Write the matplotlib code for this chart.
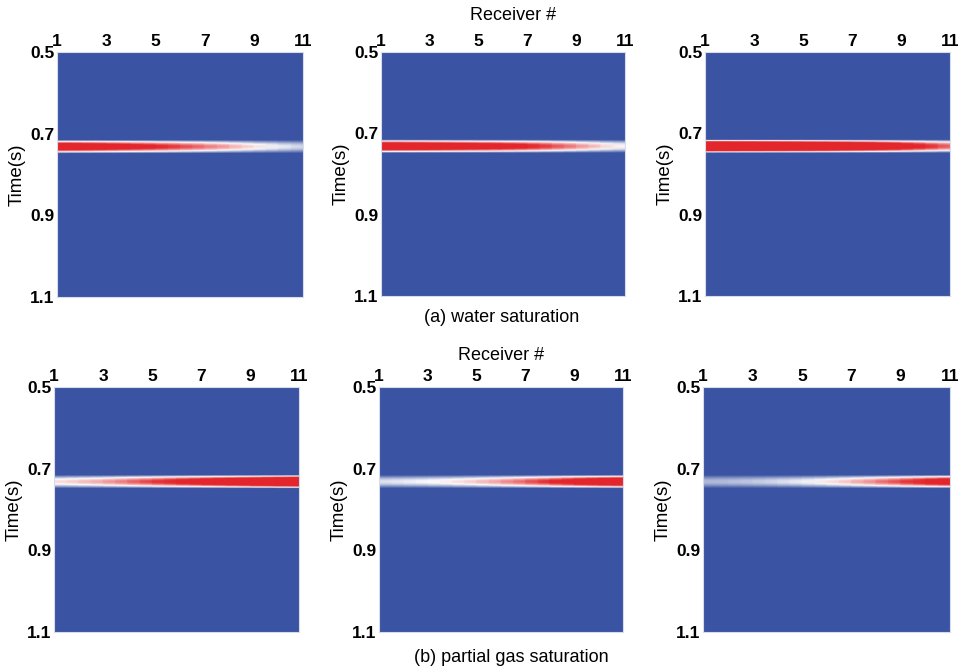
import numpy as np
import matplotlib
matplotlib.use("Agg")
import matplotlib.pyplot as plt
from matplotlib.colors import LinearSegmentedColormap

plt.rcParams['font.family'] = ['Liberation Sans', 'DejaVu Sans']

# ---- data ----
receivers = np.arange(1, 12)
xtick_labels = [1, 3, 5, 7, 9, 11]
ytick_labels = [0.5, 0.7, 0.9, 1.1]
event_time = 0.733          # s, reflection arrival
wavelet_freq = 13.5         # Hz, Ricker peak frequency

amp_water = [
    [1.00, 0.95, 0.88, 0.80, 0.72, 0.63, 0.54, 0.45, 0.35, 0.28, 0.22],
    [1.05, 1.02, 0.98, 0.93, 0.88, 0.82, 0.74, 0.62, 0.50, 0.38, 0.30],
    [1.50, 1.47, 1.43, 1.38, 1.32, 1.25, 1.15, 1.05, 0.90, 0.72, 0.55],
]
amp_gas = [
    [0.35, 0.40, 0.46, 0.55, 0.65, 0.76, 0.88, 1.00, 1.12, 1.25, 1.40],
    [0.25, 0.27, 0.30, 0.34, 0.40, 0.48, 0.58, 0.70, 0.85, 0.98, 1.10],
    [0.18, 0.19, 0.21, 0.24, 0.28, 0.34, 0.42, 0.52, 0.64, 0.78, 0.92],
]

t = np.linspace(0.5, 1.1, 601)
x = np.pi * wavelet_freq * (t - event_time)
ricker = (1 - 2 * x**2) * np.exp(-x**2)

cmap = LinearSegmentedColormap.from_list(
    "seis", [(0.0, "#3a53a2"), (0.30, "#ffffff"), (0.68, "#e3262b"), (1.0, "#e3262b")])

fig = plt.figure(figsize=(9.65, 6.69), dpi=100)
W, H = 965.0, 669.0

# axes boxes in pixels: (left, right, top, bottom)
boxes = [
    [(57, 303, 52, 297), (381, 625, 52, 296), (705, 950, 52, 296)],
    [(54, 299, 387, 632), (379, 623, 387, 632), (703, 950, 387, 632)],
]
amps = [amp_water, amp_gas]

for row in range(2):
    for col in range(3):
        l, r, tp, b = boxes[row][col]
        ax = fig.add_axes([l / W, 1 - b / H, (r - l) / W, (b - tp) / H])
        A = np.array(amps[row][col])
        Z = np.outer(ricker, A)
        ax.pcolormesh(receivers, t, Z, shading='gouraud', cmap=cmap, vmin=0, vmax=1)
        ax.set_xlim(1, 11)
        ax.set_ylim(1.1, 0.5)
        ax.xaxis.tick_top()
        ax.set_xticks(xtick_labels)
        ax.set_xticklabels([str(v) for v in xtick_labels])
        ax.set_yticks(ytick_labels)
        ax.set_yticklabels([f"{v:.1f}" for v in ytick_labels])
        ax.tick_params(length=0, pad=2, labelsize=12.5)
        for lab in ax.get_xticklabels() + ax.get_yticklabels():
            lab.set_fontweight('bold')
        ax.set_ylabel("Time(s)", fontsize=13.5, labelpad=3)
        for s in ax.spines.values():
            s.set_color("#d8dcea")
            s.set_linewidth(0.8)

fig.text(513 / W, 1 - 15 / H, "Receiver #", ha='center', va='center', fontsize=13)
fig.text(501 / W, 1 - 355 / H, "Receiver #", ha='center', va='center', fontsize=13)
fig.text(502 / W, 1 - 318 / H, "(a) water saturation", ha='center', va='center', fontsize=13)
fig.text(511 / W, 1 - 657 / H, "(b) partial gas saturation", ha='center', va='center', fontsize=13)

fig.savefig("out.png", dpi=100)
